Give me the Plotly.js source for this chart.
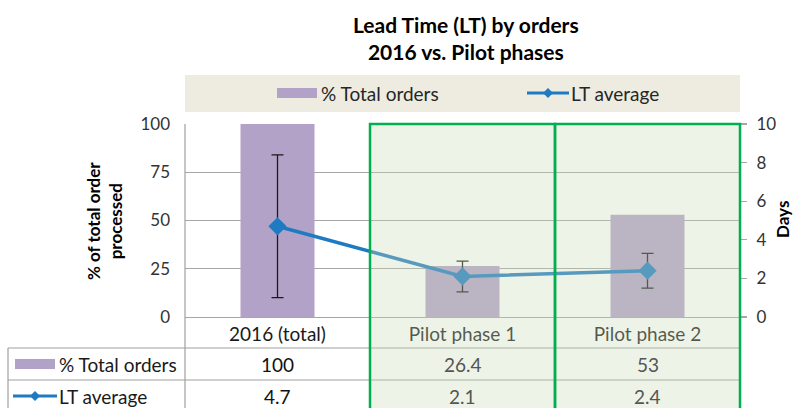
<!DOCTYPE html>
<html>
<head>
<meta charset="utf-8">
<script src="https://cdn.plot.ly/plotly-3.0.1.min.js"></script>
<style>html,body{margin:0;padding:0;background:#fff;}#chart{width:793px;height:408px;}</style>
</head>
<body>
<div id="chart"></div>
<script>
// ---- data ----
const categories = ['2016 (total)', 'Pilot phase 1', 'Pilot phase 2'];
const pctTotalOrders = [100, 26.4, 53];
const ltAverage = [4.7, 2.1, 2.4];
const ltError = [3.7, 0.8, 0.9];
const seriesNames = ['% Total orders', 'LT average'];
const leftTicks = [0, 25, 50, 75, 100];
const rightTicks = [0, 2, 4, 6, 8, 10];

// ---- styles ----
const FONT = 'Lato, "Open Sans", sans-serif';
const PURPLE = '#B3A2C7';
const BLUE = '#1F7BC1';
const GRID = '#A6A6A6';
const GREEN = '#00B050';

// plot-area geometry (pixels) used only for placing table decorations
const W = 555, H = 193;
const px = v => (v - 185) / W;   // figure x pixel -> paper x
const py = v => (317 - v) / H;   // figure y pixel -> paper y

const traces = [
  {
    type: 'bar', name: seriesNames[0], x: categories, y: pctTotalOrders,
    yaxis: 'y', marker: {color: PURPLE}, hoverinfo: 'skip'
  },
  {
    type: 'scatter', mode: 'lines+markers', name: seriesNames[1],
    x: categories, y: ltAverage, yaxis: 'y2',
    line: {color: BLUE, width: 3.5},
    marker: {symbol: 'diamond', size: 14, color: BLUE},
    error_y: {type: 'data', array: ltError, visible: true, color: '#1a1a1a', thickness: 1.3, width: 6},
    hoverinfo: 'skip'
  }
];

const shapes = [];
const annotations = [];

// legend band
shapes.push({type: 'rect', xref: 'paper', yref: 'paper', x0: 0, x1: 1, y0: py(112), y1: py(75),
  fillcolor: '#EEECE1', line: {width: 0}, layer: 'below'});

// table grid lines
const TL = '#A0A0A0';
shapes.push({type: 'line', xref: 'paper', yref: 'paper', x0: 0, x1: 0, y0: -0.6, y1: 1, line: {color: TL, width: 1.2}, layer: 'above'});
[348, 380].forEach(yy => shapes.push({type: 'line', xref: 'paper', yref: 'paper', x0: px(8), x1: 1, y0: py(yy), y1: py(yy), line: {color: TL, width: 1.2}, layer: 'above'}));
shapes.push({type: 'line', xref: 'paper', yref: 'paper', x0: px(8), x1: px(8), y0: py(348), y1: -0.6, line: {color: TL, width: 1.2}, layer: 'above'});

// translucent pilot-phase overlay
shapes.push({type: 'rect', xref: 'paper', yref: 'paper', x0: 1/3, x1: 1, y0: -0.6, y1: 1,
  fillcolor: 'rgba(204,219,185,0.33)', line: {width: 0}, layer: 'above'});
// green frames
[[1/3, 2/3], [2/3, 1]].forEach(([a, b]) => shapes.push({type: 'rect', xref: 'paper', yref: 'paper', x0: a, x1: b, y0: -0.6, y1: 1,
  fillcolor: 'rgba(0,0,0,0)', line: {color: GREEN, width: 2.5}, layer: 'above'}));

// icon helpers
function barIcon(x0, x1, yTop, yBot) {
  shapes.push({type: 'rect', xref: 'paper', yref: 'paper', x0: px(x0), x1: px(x1), y0: py(yBot), y1: py(yTop),
    fillcolor: PURPLE, line: {width: 0}, layer: 'above'});
}
function lineIcon(x0, x1, y, xd) {
  shapes.push({type: 'line', xref: 'paper', yref: 'paper', x0: px(x0), x1: px(x1), y0: py(y), y1: py(y),
    line: {color: BLUE, width: 3}, layer: 'above'});
  shapes.push({type: 'path', xref: 'paper', yref: 'paper', xsizemode: 'pixel', ysizemode: 'pixel',
    xanchor: px(xd), yanchor: py(y), path: 'M-5,0L0,5L5,0L0,-5Z', fillcolor: BLUE, line: {width: 0}, layer: 'above'});
}
function label(text, xpix, ypix, size, color, anchor) {
  annotations.push({xref: 'paper', yref: 'paper', x: px(xpix), y: py(ypix), text: text, showarrow: false,
    xanchor: anchor || 'left', yanchor: 'middle', font: {family: FONT, size: size, color: color}});
}

// top legend
barIcon(277, 317, 88, 98);
label(seriesNames[0], 319, 94, 19, '#262626');
lineIcon(527, 569, 93, 548);
label(seriesNames[1], 569, 94, 19, '#262626');

// table row headers
barIcon(15, 55, 359, 369);
label(seriesNames[0], 57, 364, 19, '#1a1a1a');
lineIcon(13, 57, 396, 35);
label(seriesNames[1], 57, 396, 19, '#1a1a1a');

// table values
const rows = [{vals: pctTotalOrders, y: 364}, {vals: ltAverage, y: 396}];
rows.forEach(r => r.vals.forEach((v, i) => annotations.push({
  xref: 'x', yref: 'paper', x: categories[i], y: py(r.y), text: String(v), showarrow: false,
  xanchor: 'center', yanchor: 'middle', font: {family: FONT, size: 19, color: i === 0 ? '#111' : '#555'}
})));

// axis titles
annotations.push({xref: 'paper', yref: 'paper', x: px(104), y: py(221), text: '% of total order<br>processed',
  showarrow: false, textangle: -90, xanchor: 'center', yanchor: 'middle',
  font: {family: FONT, size: 17, color: '#000', weight: 'bold'}});
annotations.push({xref: 'paper', yref: 'paper', x: px(782), y: py(219), text: 'Days',
  showarrow: false, textangle: -90, xanchor: 'center', yanchor: 'middle',
  font: {family: FONT, size: 17, color: '#000', weight: 'bold'}});

const layout = {
  width: 793, height: 408,
  margin: {l: 185, r: 53, t: 124, b: 91, pad: 0},
  paper_bgcolor: '#fff', plot_bgcolor: '#fff',
  showlegend: false, bargap: 0.6,
  font: {family: FONT},
  title: {text: 'Lead Time (LT) by orders<br>2016 vs. Pilot phases', x: 0.506, xref: 'paper',
    y: 1 - 33 / 408, yref: 'container', yanchor: 'top',
    font: {family: FONT, size: 21, color: '#000', weight: 'bold'}},
  xaxis: {type: 'category', range: [-0.5, 2.5], showline: true, linecolor: GRID, linewidth: 1.2,
    ticks: '', showgrid: false, tickfont: {family: FONT, size: 19, color: '#1a1a1a'}, fixedrange: true},
  yaxis: {range: [0, 100], tickvals: leftTicks, showgrid: true, gridcolor: GRID, gridwidth: 1.2,
    zeroline: false, showline: false, ticks: '', ticklabelstandoff: 14,
    tickfont: {family: FONT, size: 17, color: '#333'}, fixedrange: true},
  yaxis2: {overlaying: 'y', side: 'right', range: [0, 10], tickvals: rightTicks, showgrid: false,
    zeroline: false, showline: false, ticks: 'outside', ticklen: 6, tickcolor: GRID, tickwidth: 1.2,
    ticklabelstandoff: 6, tickfont: {family: FONT, size: 17, color: '#333'}, fixedrange: true},
  shapes: shapes,
  annotations: annotations
};

Plotly.newPlot('chart', traces, layout, {displayModeBar: false, staticPlot: true});
</script>
</body>
</html>
